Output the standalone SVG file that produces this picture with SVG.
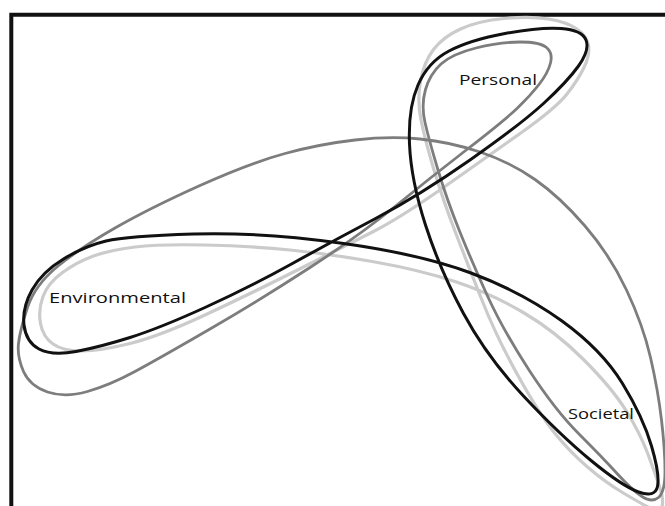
<svg xmlns="http://www.w3.org/2000/svg" width="665" height="506" viewBox="0 0 665 506">
<style>
.loop{fill:none;stroke-linejoin:round;stroke-linecap:round}
.black{stroke:#111111;stroke-width:3}
.dark{stroke:#7d7d7d;stroke-width:2.8}
.light{stroke:#cbcbcb;stroke-width:3.2}
.lbl{font-family:"Open Sans","Liberation Sans",sans-serif;font-size:15px;fill:#111111}
</style>
<rect x="0" y="0" width="665" height="506" fill="#ffffff"/>
<path id="frame" d="M11.3,506 L11.3,14.7 L665,14.7" fill="none" stroke="#111111" stroke-width="4"/>
<g id="loops">
<path id="light-loop" class="loop light" d="M40.5,323.5 Q38,310 43,296.5 Q48,283 62.5,272.5 Q77,262 93.5,256 Q110,250 135,247 Q160,244 205,245 Q250,246 290,250 Q330,254 375,262 Q420,270 455,281.5 Q490,293 522.5,312 Q555,331 583.5,359.5 Q612,388 626,410.5 Q640,433 647.5,453 Q655,473 659.5,486.5 Q664,500 662,506.5 Q660,513 650,508 Q640,503 622.5,492.5 Q605,482 587.5,467 Q570,452 555,433.5 Q540,415 518.5,376.5 Q497,338 482.5,301.5 Q468,265 455.5,232.5 Q443,200 434,170 Q425,140 421,120 Q417,100 420.5,81 Q424,62 433.5,49.5 Q443,37 460.5,29 Q478,21 504,18.5 Q530,16 548.5,19 Q567,22 577,29 Q587,36 588.5,45.5 Q590,55 584,67.5 Q578,80 567,94 Q556,108 521.5,132.5 Q487,157 443.5,187.5 Q400,218 372.5,232 Q345,246 297.5,270 Q250,294 205,315 Q160,336 130,343.5 Q100,351 81.5,351 Q63,351 53,344 Q43,337 40.5,323.5 Z"/>
<path id="dark-loop" class="loop dark" d="M18.5,343.5 Q20,330 27.5,307.5 Q35,285 57.5,266.5 Q80,248 115,228 Q150,208 200,185.5 Q250,163 285,153.5 Q320,144 355,140 Q390,136 420,139 Q450,142 480,152 Q510,162 535,179.5 Q560,197 585,226 Q610,255 626.5,290 Q643,325 650.5,357.5 Q658,390 661.5,420 Q665,450 665,471 Q665,492 658.5,497.5 Q652,503 642,496.5 Q632,490 617.5,474 Q603,458 579,434 Q555,410 529,370 Q503,330 487.5,296 Q472,262 459.5,231 Q447,200 438,170 Q429,140 425,122.5 Q421,105 425.5,89.5 Q430,74 441,64 Q452,54 476,48 Q500,42 520,42 Q540,42 546.5,47.5 Q553,53 550.5,63 Q548,73 539,84.5 Q530,96 517.5,108 Q505,120 467.5,149 Q430,178 395,206.5 Q360,235 310,267.5 Q260,300 210,329 Q160,358 135,371.5 Q110,385 87.5,391.5 Q65,398 47.5,392 Q30,386 23.5,371.5 Q17,357 18.5,343.5 Z"/>
<path id="black-loop" class="loop black" d="M106,241 Q127,236 193.5,234 Q260,232 340,243 Q420,254 471,273 Q522,292 562,321 Q602,350 622.5,383.5 Q643,417 651.5,446 Q660,475 657.5,486.5 Q655,498 638.5,492 Q622,486 591,460.5 Q560,435 523.5,396 Q487,357 463.5,313.5 Q440,270 425.5,225 Q411,180 409.5,144 Q408,108 418,85 Q428,62 449,51 Q470,40 505,33.5 Q540,27 561,28.5 Q582,30 586,40 Q590,50 578.5,66 Q567,82 543.5,103.5 Q520,125 470,160 Q420,195 376.5,218 Q333,241 291.5,264 Q250,287 205,307.5 Q160,328 130,337.5 Q100,347 76,351.5 Q52,356 39,349 Q26,342 24,325 Q22,308 32,290 Q42,272 63.5,259 Q85,246 106,241 Z"/>
</g>
<g id="labels">
<text id="label-personal" class="lbl" x="459" y="85" textLength="78" lengthAdjust="spacingAndGlyphs">Personal</text>
<text id="label-environmental" class="lbl" x="49" y="303" textLength="137" lengthAdjust="spacingAndGlyphs">Environmental</text>
<text id="label-societal" class="lbl" x="568" y="419" textLength="66" lengthAdjust="spacingAndGlyphs">Societal</text>
</g>
</svg>
